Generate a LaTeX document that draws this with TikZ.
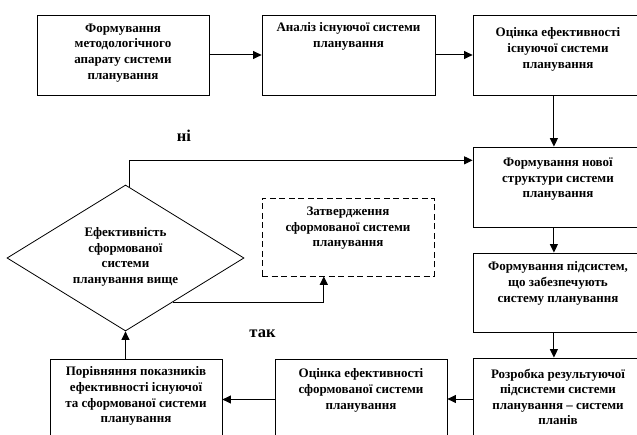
\documentclass[tikz,border=0pt]{standalone}
\usepackage{fontspec}
\setmainfont{Liberation Serif}
\usetikzlibrary{arrows.meta,calc,shapes.geometric}
\begin{document}
\begin{tikzpicture}[x=1pt,y=-1pt,
  box/.style={draw,line width=0.8pt,inner sep=0pt,minimum width=172pt,minimum height=80pt},
  rbox/.style={box,minimum width=170pt},
  dbox/.style={box,dash pattern=on 6pt off 3.5pt},
  txt/.style={inner sep=0pt,align=center,anchor=north,font=\bfseries\fontsize{13pt}{15.6pt}\selectfont},
  lbl/.style={inner sep=0pt,font=\bfseries\fontsize{16.5pt}{18pt}\selectfont},
  arr/.style={line width=1pt,-{Triangle[length=8.5pt,width=8pt]}}]
\useasboundingbox (0,0) rectangle (637,435);
\clip (0,0) rectangle (637,435);
% boxes
\node[box] (b1) at (123,55) {};
\node[box,minimum width=173pt] (b2) at (348.5,55) {};
\node[rbox] (b3) at (558,55) {};
\node[rbox] (b4) at (558,187) {};
\node[rbox,minimum height=79pt] (b5) at (558,292.5) {};
\node[rbox,minimum height=82pt] (b6) at (558,399) {};
\node[box,minimum height=81pt] (b7) at (361,399.5) {};
\node[box,minimum height=81pt] (b8) at (136,399.5) {};
\node[dbox,minimum height=78pt] (z) at (348,237) {};
\node[draw,line width=0.8pt,diamond,inner sep=0pt,minimum width=237pt,minimum height=146pt] (d) at (125.5,258) {};
% texts
\node[txt] (t1) at ($(b1.north)+(0,9)$) {Формування\\методологічного\\апарату системи\\планування};
\node[txt] (t2) at ($(b2.north)+(0,8)$) {Аналіз існуючої системи\\планування};
\node[txt] (t3) at ($(b3.north)+(0,13)$) {Оцінка ефективності\\існуючої системи\\планування};
\node[txt] (t4) at ($(b4.north)+(0,11)$) {Формування нової\\структури системи\\планування};
\node[txt] (t5) at ($(b5.north)+(0,9)$) {Формування підсистем,\\що забезпечують\\систему планування};
\node[txt] (t6) at ($(b6.north)+(0,11)$) {Розробка результуючої\\підсистеми системи\\планування – системи\\планів};
\node[txt] (t7) at ($(b7.north)+(0,10)$) {Оцінка ефективності\\сформованої системи\\планування};
\node[txt] (t8) at ($(b8.north)+(0,8)$) {Порівняння показників\\ефективності існуючої\\та сформованої системи\\планування};
\node[txt] (tz) at ($(z.north)+(0,9)$) {Затвердження\\сформованої системи\\планування};
\node[txt,anchor=center] (td) at ($(d.center)+(0,-1)$) {Ефективність\\сформованої\\системи\\планування вище};
% labels
\node[lbl] (ni) at (184,136) {ні};
\node[lbl] (tak) at (262.5,334) {так};
% connectors
\draw[arr] (b1.east) -- (b2.west);
\draw[arr] (b2.east) -- (b3.west);
\coordinate (v3) at ($(b3.south west)!0.476!(b3.south east)$);
\draw[arr] (v3) -- (v3 |- b4.north);
\coordinate (v4) at ($(b4.south west)!0.476!(b4.south east)$);
\draw[arr] (v4) -- (v4 |- b5.north);
\coordinate (v5) at ($(b5.south west)!0.476!(b5.south east)$);
\draw[arr] (v5) -- (v5 |- b6.north);
\draw[arr] (b6.west) -- (b6.west -| b7.east);
\draw[arr] (b7.west) -- (b7.west -| b8.east);
\draw[arr] (d.south |- b8.north) -- (d.south);
\coordinate (nstart) at ($(d.north)!0.035!(d.east)$);
\coordinate (nin) at ($(b4.north west)!0.17!(b4.south west)$);
\draw[arr] (nstart) |- (nin);
\coordinate (ystart) at ($(d.east)!0.6!(d.south)$);
\coordinate (yin) at ($(z.south west)!0.36!(z.south east)$);
\draw[arr] (ystart) -| (yin);
\end{tikzpicture}
\end{document}
